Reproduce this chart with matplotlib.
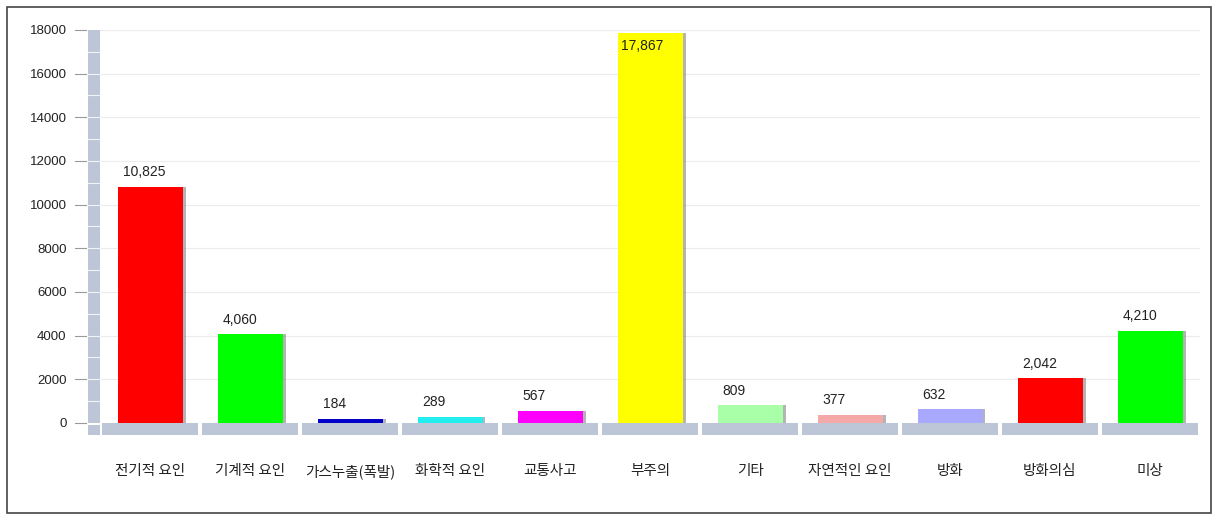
import numpy as np
import matplotlib.pyplot as plt
from matplotlib.patches import Rectangle

plt.rcParams['font.family'] = ['Noto Sans CJK KR', 'DejaVu Sans']

# 화재 원인별 건수
categories = ['전기적 요인', '기계적 요인', '가스누출(폭발)', '화학적 요인', '교통사고',
              '부주의', '기타', '자연적인 요인', '방화', '방화의심', '미상']
values = [10825, 4060, 184, 289, 567, 17867, 809, 377, 632, 2042, 4210]
colors = ['#ff0000', '#00ff00', '#0000c8', '#22eef0', '#ff00ff', '#ffff00',
          '#a8ffa8', '#f4a8a8', '#a8a8ff', '#ff0000', '#00ff00']
yticks = np.arange(0, 18001, 2000)

W, H = 1216, 518
fig = plt.figure(figsize=(W / 100, H / 100), dpi=100)

# 외곽 테두리
fig.patches.append(Rectangle((7 / W, 5 / H), 1204 / W, 506 / H, transform=fig.transFigure,
                             fill=False, edgecolor='#444444', lw=1.2))

ax = fig.add_axes([100 / W, 83 / H, 1100 / W, 405 / H])
floor = -550
ax.set_xlim(-0.5, len(categories) - 0.5)
ax.set_ylim(floor, 18000)
for s in ax.spines.values():
    s.set_visible(False)

for y in yticks[1:]:
    ax.axhline(y, color='#ececec', lw=0.8, zorder=0)

x = np.arange(len(categories))
wall = '#bcc6d6'

# 바닥
for xi in x:
    ax.add_patch(Rectangle((xi - 0.48, floor), 0.96, -floor, color=wall, lw=0, zorder=1))

# 벽 (y축)
tr = ax.get_yaxis_transform()
ax.add_patch(Rectangle((-12 / 1100, 0), 12 / 1100, 18000, transform=tr, color=wall,
                       lw=0, clip_on=False, zorder=1))
ax.add_patch(Rectangle((-12 / 1100, floor), 12 / 1100, -floor - 80, transform=tr, color=wall,
                       lw=0, clip_on=False, zorder=1))
for y in range(1000, 18000, 1000):
    ax.plot([-12 / 1100, 0], [y, y], transform=tr, color='white', lw=0.8,
            alpha=0.8, clip_on=False, zorder=2)
# 눈금 표시
for y in yticks:
    ax.plot([-25 / 1100, -14 / 1100], [y, y], transform=tr, color='#999999', lw=0.8,
            clip_on=False, zorder=2)

# 막대 + 그림자
bw = 0.65
ax.bar(x + 0.03, values, width=bw, color='#777777', alpha=0.55, zorder=2)
ax.bar(x, values, width=bw, color=colors, zorder=3)

for xi, v in zip(x, values):
    label = f'{v:,}'
    if v > 16800:
        ax.text(xi - bw / 2 + 0.04, v - 300, label, ha='left', va='top',
                fontsize=10, family='Liberation Sans', color='#222222', zorder=4)
    else:
        ax.text(xi - bw / 2 + 0.05, v + 350, label, ha='left', va='bottom',
                fontsize=10, family='Liberation Sans', color='#222222', zorder=4)

ax.set_yticks(yticks)
ax.set_yticklabels([str(t) for t in yticks], fontsize=9.5, family='Liberation Sans',
                   color='#222222')
ax.tick_params(axis='y', length=0, pad=24)
ax.set_xticks(x)
ax.set_xticklabels(categories, fontsize=10.5, color='#222222')
ax.tick_params(axis='x', length=0, pad=21)

fig.savefig('out.png', dpi=100)
